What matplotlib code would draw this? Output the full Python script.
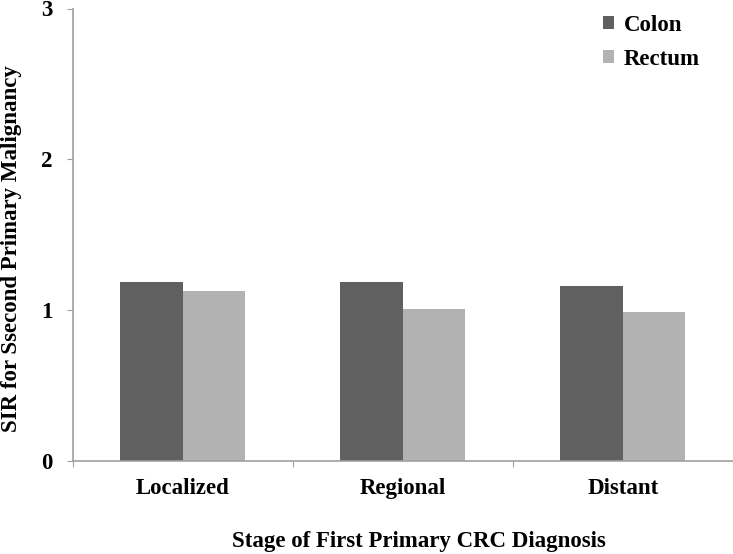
import matplotlib.pyplot as plt
import numpy as np

# Dữ liệu
stages = ['Localized', 'Regional', 'Distant']
colon = [1.19, 1.19, 1.16]
rectum = [1.13, 1.01, 0.99]
yticks = [0, 1, 2, 3]

plt.rcParams['font.family'] = ['Liberation Serif', 'DejaVu Serif']
plt.rcParams['font.weight'] = 'bold'

W, H = 733, 554
fig = plt.figure(figsize=(W / 100, H / 100), dpi=100)
ax = fig.add_axes([72.7 / W, 1 - 461 / H, 660 / W, 452.5 / H])

x = np.arange(len(stages))
w = 0.285
ax.bar(x - w / 2, colon, w, color='#606060', label='Colon')
ax.bar(x + w / 2, rectum, w, color='#b2b2b2', label='Rectum')

ax.set_xlim(-0.5, 2.5)
ax.set_ylim(0, 3)
ax.set_yticks(yticks)
ax.set_yticklabels([str(t) for t in yticks], fontsize=16.5, fontweight='bold')

# vạch chia trục x nằm giữa các nhóm
ax.set_xticks([-0.5, 0.5, 1.5, 2.5])
ax.set_xticklabels([])
ax.set_xticks(x, minor=True)
ax.set_xticklabels(stages, minor=True, fontsize=16.5, fontweight='bold')
ax.tick_params(axis='x', which='minor', length=0, pad=12)
ax.tick_params(axis='x', which='major', length=4.3, color='#a0a0a0')
ax.tick_params(axis='y', length=4.3, color='#a0a0a0', pad=10)

for s in ['top', 'right']:
    ax.spines[s].set_visible(False)
for s in ['left', 'bottom']:
    ax.spines[s].set_color('#a0a0a0')
    ax.spines[s].set_linewidth(1.2)

fig.text(12 / W, 1 - 248.5 / H, 'SIR for Ssecond Primary Malignancy',
         rotation=90, ha='center', va='center', fontsize=16.5, fontweight='bold')
fig.text(419 / W, 1 - 541 / H, 'Stage of First Primary CRC Diagnosis',
         ha='center', va='center', fontsize=16.5, fontweight='bold')

leg = ax.legend(loc='upper left', bbox_to_anchor=(603 / W, 1 - 15 / H),
                bbox_transform=fig.transFigure, frameon=False, borderpad=0,
                borderaxespad=0, fontsize=16.5, handlelength=0.5,
                handleheight=0.5, handletextpad=0.4, labelspacing=0.55)
for t in leg.get_texts():
    t.set_fontweight('bold')

fig.savefig('out.png', dpi=100)
